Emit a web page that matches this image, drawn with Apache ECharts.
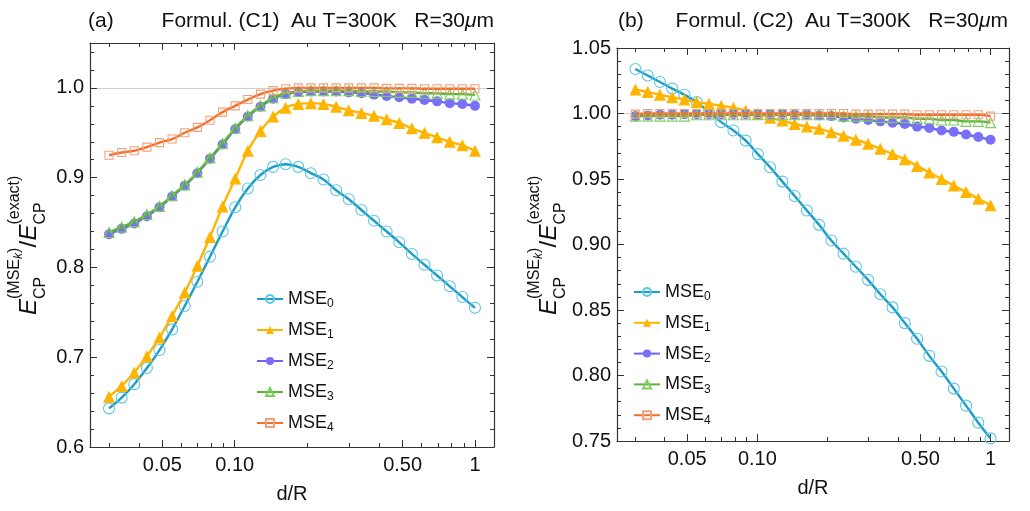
<!DOCTYPE html>
<html>
<head>
<meta charset="utf-8">
<script src="https://cdn.jsdelivr.net/npm/echarts@6/dist/echarts.min.js"></script>
<style>html,body{margin:0;padding:0;background:#fff;}#c{width:1030px;height:511px;}</style>
</head>
<body>
<div id="c"></div>
<script>
// ---------------- data ----------------
const D = [0.03, 0.03386, 0.03821, 0.04312, 0.04866, 0.05491, 0.06197, 0.06994, 0.07893, 0.08907,
  0.1005, 0.1134, 0.1280, 0.1445, 0.1630, 0.1840, 0.2076, 0.2343, 0.2645, 0.2984,
  0.3368, 0.3801, 0.4289, 0.4841, 0.5463, 0.6165, 0.6957, 0.7852, 0.8861, 1.0];

const A_MSE0 = [0.643, 0.655, 0.670, 0.688, 0.708, 0.731, 0.757, 0.784, 0.812, 0.840,
  0.867, 0.888, 0.903, 0.912, 0.915, 0.912, 0.905, 0.898, 0.886, 0.876,
  0.864, 0.852, 0.840, 0.828, 0.815, 0.803, 0.791, 0.779, 0.767, 0.755];
const A_MSE1 = [0.656, 0.668, 0.683, 0.701, 0.722, 0.746, 0.772, 0.802, 0.834, 0.868,
  0.899, 0.930, 0.952, 0.968, 0.978, 0.982, 0.983, 0.982, 0.979, 0.975,
  0.972, 0.969, 0.965, 0.961, 0.955, 0.950, 0.945, 0.940, 0.936, 0.930];
const A_MSE2 = [0.837, 0.843, 0.849, 0.857, 0.867, 0.879, 0.891, 0.905, 0.921, 0.937,
  0.954, 0.968, 0.979, 0.988, 0.993, 0.9955, 0.996, 0.996, 0.996, 0.995,
  0.994, 0.9925, 0.991, 0.9895, 0.988, 0.9866, 0.985, 0.983, 0.982, 0.980];
const A_MSE3 = [0.839, 0.845, 0.851, 0.859, 0.868, 0.880, 0.892, 0.906, 0.922, 0.938,
  0.955, 0.969, 0.980, 0.989, 0.994, 0.996, 0.997, 0.997, 0.997, 0.997,
  0.996, 0.996, 0.996, 0.995, 0.995, 0.994, 0.994, 0.993, 0.993, 0.992];
const A_MSE4 = [0.925, 0.928, 0.930, 0.934, 0.939, 0.943, 0.950, 0.956, 0.964, 0.973,
  0.980, 0.987, 0.993, 0.997, 0.999, 1.000, 1.000, 1.000, 1.000, 1.000,
  1.000, 1.000, 0.9995, 0.9995, 0.9995, 0.999, 0.999, 0.999, 0.999, 0.999];

const B_MSE0 = [1.034, 1.029, 1.024, 1.019, 1.0143, 1.0087, 1.001, 0.9934, 0.987, 0.9793,
  0.969, 0.959, 0.948, 0.937, 0.926, 0.915, 0.903, 0.893, 0.883, 0.873,
  0.862, 0.852, 0.840, 0.828, 0.815, 0.803, 0.790, 0.777, 0.764, 0.752];
const B_MSE1 = [1.0184, 1.0164, 1.0143, 1.0125, 1.0107, 1.0087, 1.0074, 1.006, 1.0044, 1.0023,
  0.9998, 0.9967, 0.9946, 0.992, 0.990, 0.9883, 0.9857, 0.983, 0.980, 0.977,
  0.973, 0.969, 0.965, 0.960, 0.955, 0.950, 0.945, 0.940, 0.935, 0.930];
const B_MSE2 = [0.998, 0.9985, 0.999, 0.999, 0.9995, 0.9995, 0.9995, 0.9995, 0.9995, 0.9995,
  0.9995, 0.9995, 0.9995, 0.999, 0.999, 0.9985, 0.998, 0.997, 0.996, 0.995,
  0.994, 0.993, 0.992, 0.990, 0.989, 0.987, 0.986, 0.984, 0.982, 0.980];
const B_MSE3 = [0.998, 0.998, 0.998, 0.998, 0.998, 0.999, 0.999, 0.999, 0.999, 0.999,
  0.999, 0.999, 0.999, 0.999, 0.999, 0.999, 0.999, 0.998, 0.998, 0.998,
  0.997, 0.997, 0.997, 0.996, 0.996, 0.995, 0.995, 0.994, 0.994, 0.993];
const B_MSE4 = [0.9995, 1.0, 1.0, 1.0, 1.0, 1.0, 1.0, 1.0, 1.0, 1.0,
  1.0, 1.0, 1.0, 1.0, 1.0, 1.0, 1.0, 1.0, 0.9995, 0.9995,
  0.9995, 0.9995, 0.9995, 0.999, 0.999, 0.999, 0.999, 0.999, 0.999, 0.998];

const SERIES_NAMES = ['MSE0', 'MSE1', 'MSE2', 'MSE3', 'MSE4'];

const X_RANGE = [0.025, 1.2];
const X_TICKS_MAJOR = [0.05, 0.1, 0.5, 1];
const X_TICK_LABELS = ['0.05', '0.10', '0.50', '1'];
const X_TICKS_MINOR = [0.03, 0.04, 0.06, 0.07, 0.08, 0.09, 0.2, 0.3, 0.4, 0.6, 0.7, 0.8, 0.9];

const A_Y_RANGE = [0.6, 1.05];
const A_Y_TICKS = [0.6, 0.7, 0.8, 0.9, 1.0];
const A_Y_MINOR = [0.62, 0.64, 0.66, 0.68, 0.72, 0.74, 0.76, 0.78, 0.82, 0.84, 0.86, 0.88,
  0.92, 0.94, 0.96, 0.98, 1.02, 1.04];
const B_Y_RANGE = [0.75, 1.05];
const B_Y_TICKS = [0.75, 0.80, 0.85, 0.90, 0.95, 1.00, 1.05];
const B_Y_MINOR = [0.76, 0.77, 0.78, 0.79, 0.81, 0.82, 0.83, 0.84, 0.86, 0.87, 0.88, 0.89,
  0.91, 0.92, 0.93, 0.94, 0.96, 0.97, 0.98, 0.99, 1.01, 1.02, 1.03, 1.04];
const REF_LINE = [1.0];

// ---------------- styles ----------------
const FONT = '"Liberation Sans", Arial, sans-serif';
const FRAME = '#333';
const TXT = '#111';
const STYLES = [
  { line: '#1b9dc6', mark: '#5cc6e6', symbol: 'circle', size: 11, hollow: true },
  { line: '#ffb400', mark: '#ffb400', symbol: 'triangle', size: 12, hollow: false },
  { line: '#6f62f2', mark: '#7a6ff8', symbol: 'circle', size: 10, hollow: false },
  { line: '#5cb43a', mark: '#7ccf5c', symbol: 'triangle', size: 10, hollow: true },
  { line: '#f2702c', mark: '#f4a07a', symbol: 'rect', size: 8, hollow: true }
];

const chart = echarts.init(document.getElementById('c'), null, { renderer: 'canvas' });

const L10 = v => Math.log10(v);
const grids = [
  { left: 90, top: 43, width: 404, height: 404 },
  { left: 617, top: 48, width: 392, height: 393 }
];

function xAxesFor(gi) {
  const lmin = L10(X_RANGE[0]), lmax = L10(X_RANGE[1]);
  const majors = X_TICKS_MAJOR.map(L10), minors = X_TICKS_MINOR.map(L10);
  const base = { gridIndex: gi, type: 'value', min: lmin, max: lmax, splitLine: { show: false } };
  const fmt = v => { const i = majors.findIndex(p => Math.abs(p - v) < 1e-6); return i >= 0 ? X_TICK_LABELS[i] : ''; };
  return [
    { gridIndex: gi, type: 'log', logBase: 10, min: X_RANGE[0], max: X_RANGE[1], show: false },
    Object.assign({}, base, {
      position: 'bottom',
      axisLine: { show: true, onZero: false, lineStyle: { color: FRAME, width: 1.2 } },
      axisTick: { show: true, inside: true, length: 7, customValues: majors, lineStyle: { color: FRAME } },
      axisLabel: { show: true, customValues: majors, formatter: fmt, fontSize: 20, color: TXT, margin: 8, fontFamily: FONT },
      name: 'd/R', nameLocation: 'middle', nameGap: 37,
      nameTextStyle: { fontSize: 20, color: TXT, fontFamily: FONT }
    }),
    Object.assign({}, base, {
      position: 'bottom',
      axisLine: { show: false, onZero: false },
      axisTick: { show: true, inside: true, length: 4, customValues: minors, lineStyle: { color: FRAME } },
      axisLabel: { show: false }
    }),
    Object.assign({}, base, {
      position: 'top',
      axisLine: { show: true, onZero: false, lineStyle: { color: FRAME, width: 1.2 } },
      axisTick: { show: true, inside: true, length: 7, customValues: majors, lineStyle: { color: FRAME } },
      axisLabel: { show: false }
    }),
    Object.assign({}, base, {
      position: 'top',
      axisLine: { show: false, onZero: false },
      axisTick: { show: true, inside: true, length: 4, customValues: minors, lineStyle: { color: FRAME } },
      axisLabel: { show: false }
    })
  ];
}

function yAxesFor(gi, range, majors, minors, dec) {
  const base = { gridIndex: gi, type: 'value', min: range[0], max: range[1], splitLine: { show: false } };
  return [
    Object.assign({}, base, {
      position: 'left',
      axisLine: { show: true, onZero: false, lineStyle: { color: FRAME, width: 1.2 } },
      axisTick: { show: true, inside: true, length: 7, customValues: majors, lineStyle: { color: FRAME } },
      axisLabel: { show: true, customValues: majors, formatter: v => v.toFixed(dec), fontSize: 20, color: TXT, margin: 6, fontFamily: FONT }
    }),
    Object.assign({}, base, {
      position: 'left',
      axisLine: { show: false, onZero: false },
      axisTick: { show: true, inside: true, length: 4, customValues: minors, lineStyle: { color: FRAME } },
      axisLabel: { show: false }
    }),
    Object.assign({}, base, {
      position: 'right',
      axisLine: { show: true, onZero: false, lineStyle: { color: FRAME, width: 1.2 } },
      axisTick: { show: true, inside: true, length: 7, customValues: majors, lineStyle: { color: FRAME } },
      axisLabel: { show: false }
    }),
    Object.assign({}, base, {
      position: 'right',
      axisLine: { show: false, onZero: false },
      axisTick: { show: true, inside: true, length: 4, customValues: minors, lineStyle: { color: FRAME } },
      axisLabel: { show: false }
    }),
    Object.assign({}, base, {
      position: 'left',
      axisLine: { show: false, onZero: false },
      axisTick: { show: false, customValues: REF_LINE },
      axisLabel: { show: false },
      splitLine: { show: true, lineStyle: { color: '#cfcfcf', width: 1 } }
    })
  ];
}

function seriesFor(gi, arrays) {
  return arrays.map((ys, k) => {
    const st = STYLES[k];
    return {
      name: SERIES_NAMES[k],
      type: 'line',
      xAxisIndex: gi * 5,
      yAxisIndex: gi * 5,
      data: D.map((x, i) => [x, ys[i]]),
      smooth: 0.35,
      symbol: st.symbol,
      symbolSize: st.size,
      showSymbol: true,
      lineStyle: { color: st.line, width: 2.4 },
      itemStyle: st.hollow
        ? { color: 'rgba(255,255,255,0)', borderColor: st.mark, borderWidth: 1.1 }
        : { color: st.mark, borderWidth: 0 },
      z: 3 + k,
      silent: true,
      animation: false
    };
  });
}

function legendFor(left, top, gap) {
  return {
    orient: 'vertical', left: left, top: top, itemGap: gap,
    itemWidth: 26, itemHeight: 10,
    data: SERIES_NAMES,
    selectedMode: false,
    formatter: name => '{n|MSE}{s|' + name.slice(3) + '}',
    textStyle: {
      color: TXT, fontFamily: FONT,
      rich: {
        n: { fontSize: 18, fontFamily: FONT, color: TXT, lineHeight: 22 },
        s: { fontSize: 12, fontFamily: FONT, color: TXT, lineHeight: 12, verticalAlign: 'bottom', padding: [4, 0, 0, 0] }
      }
    }
  };
}

function titleEls(lx, rightPx, label, formul) {
  return [
    { type: 'text', left: lx, top: 11, style: { text: label, fontSize: 21, fontFamily: FONT, fill: TXT } },
    { type: 'text', right: rightPx, top: 11, style: {
      text: '{t|' + formul + '  Au T=300K   R=30}{i|\u03bc}{t|m}',
      rich: {
        t: { fontSize: 21, fontFamily: FONT, fill: TXT },
        i: { fontSize: 21, fontFamily: FONT, fontStyle: 'italic', fill: TXT }
      }
    } }
  ];
}

function yLabel(cx, cy) {
  const t = (txt, x, y, size, italic) => ({
    type: 'text', x: x, y: y,
    style: { text: txt, fontSize: size, fontFamily: FONT, fontStyle: italic ? 'italic' : 'normal', fill: TXT,
      align: 'left', textAlign: 'left', verticalAlign: 'middle', textVerticalAlign: 'middle' }
  });
  return {
    type: 'group', x: cx, y: cy, rotation: Math.PI / 2,
    children: [
      t('E', -70, 0, 24, true),
      t('CP', -54, 12, 16, false),
      t('(MSE', -54, -14, 16, false),
      t('k', -14, -10, 12, true),
      t(')', -8, -14, 16, false),
      t('/', -2.5, 0, 24, false),
      t('E', 4.5, 0, 24, true),
      t('CP', 20.5, 12, 16, false),
      t('(exact)', 20.5, -14, 16, false)
    ]
  };
}

const option = {
  backgroundColor: '#fff',
  animation: false,
  grid: grids.map(g => Object.assign({ containLabel: false, outerBoundsMode: 'none' }, g)),
  xAxis: [].concat(xAxesFor(0), xAxesFor(1)),
  yAxis: [].concat(
    yAxesFor(0, A_Y_RANGE, A_Y_TICKS, A_Y_MINOR, 1),
    yAxesFor(1, B_Y_RANGE, B_Y_TICKS, B_Y_MINOR, 2)
  ),
  legend: [legendFor(251, 285, 11), legendFor(628, 278, 10.8)],
  series: [].concat(
    seriesFor(0, [A_MSE0, A_MSE1, A_MSE2, A_MSE3, A_MSE4]),
    seriesFor(1, [B_MSE0, B_MSE1, B_MSE2, B_MSE3, B_MSE4])
  ),
  graphic: [].concat(
    titleEls(88, 1030 - 494, '(a)', 'Formul. (C1)'),
    titleEls(618, 1030 - 1008, '(b)', 'Formul. (C2)'),
    [yLabel(29, 245), yLabel(549, 245)]
  )
};
chart.setOption(option);
</script>
</body>
</html>
